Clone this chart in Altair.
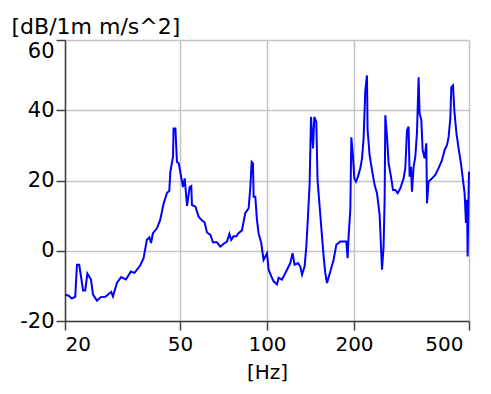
import altair as alt
import pandas as pd

freq = [20.0, 20.6, 21.1, 21.7, 22.0, 22.4, 23.1, 23.5, 23.9, 24.6,
        25.0, 25.8, 26.6, 27.6, 28.9, 29.3, 30.3, 31.3, 32.5, 33.8,
        34.8, 36.4, 37.4, 38.4, 39.2, 39.7, 40.3, 41.6, 42.7, 43.9,
        45.1, 45.9,
        46.3, 47.3, 47.5, 48.2, 48.8, 49.5, 50.1, 51.2, 51.9, 52.9,
        54.0, 54.7, 55.0, 56.5, 58.0, 59.6, 60.8, 62.0, 63.7, 65.0,
        67.1, 68.9, 70.8, 72.7, 74.1, 75.2, 76.6, 78.3, 79.7, 81.9,
        84.1, 86.4, 87.5, 88.5, 89.4, 89.9,
        91.1, 92.3, 93.5, 95.5, 97.3, 100.0, 101.3, 103.5, 105.4, 108.3,
        109.7, 112.7, 115.0, 117.3, 120.4, 122.6, 124.6, 128.0, 130.4, 132.2,
        134.9, 136.8, 138.2, 140.4, 142.0, 144.3, 145.8, 148.1, 149.6, 152.1,
        155.0, 157.0, 159.1, 161.3, 165.6, 170.0, 173.7, 179.3,
        188.1, 190.1, 191.6, 194.2, 195.8, 198.4, 200.5, 203.2, 206.4, 210.3,
        213.2, 215.9, 218.9, 221.8, 222.9, 226.5, 230.8, 235.7, 240.2, 245.3,
        250.0, 253.2, 255.3, 256.7, 260.2, 263.5, 268.5, 272.9, 278.0, 283.2,
        289.3,
        296.9, 301.0, 305.1, 309.0, 311.5, 315.0, 317.5, 321.6, 326.0, 330.4,
        334.6, 337.3, 342.0, 345.5, 351.1, 355.8, 357.8, 362.3, 372.4, 382.3,
        392.4, 403.2, 411.8, 419.7, 425.1, 430.8, 434.3, 440.2, 444.8, 451.9,
        460.3, 469.0, 476.6, 482.7, 488.1, 492.1, 494.5, 498.4, 500.0]

level = [-12.5, -12.8, -13.6, -13.1, -4.0, -4.0, -11.3, -11.3, -6.5, -8.2,
         -12.5, -14.2, -13.2, -13.1, -11.7, -13.0, -9.0, -7.5, -8.2, -5.9,
         -6.3, -4.2, -2.1, 3.1, 3.8, 2.2, 5.0, 6.4, 8.8, 13.5,
         16.5, 17.0,
         22.5, 26.8, 34.8, 34.8, 25.3, 24.9, 22.5, 18.1, 20.6, 12.8,
         18.1, 18.4, 13.0, 12.6, 9.7, 8.6, 8.1, 5.2, 4.5, 2.4,
         2.4, 1.2, 2.0, 2.6, 4.8, 3.1, 4.1, 4.1, 5.0, 5.8,
         10.7, 12.1, 17.8, 25.3, 24.9, 15.4,
         15.4, 8.8, 5.0, 2.2, -2.6, -0.7, -5.4, -7.3, -8.7, -9.6,
         -7.7, -8.2, -6.8, -5.4, -3.5, -0.7, -4.0, -3.5, -4.5, -6.8,
         -4.5, 1.2, 7.9, 18.7, 38.1, 29.1, 38.1, 36.7, 20.1, 12.6,
         4.1, -1.6, -6.3, -9.2, -5.9, -2.6, 1.7, 2.6,
         2.6, -2.1, 4.1, 11.6, 32.3, 26.8, 20.6, 19.7, 21.1, 23.5,
         26.3, 32.0, 45.7, 49.9, 34.3, 27.2, 23.0, 18.7, 16.4, 10.2,
         -5.4, 1.2, 14.5, 38.6, 32.4, 24.9, 21.1, 17.3, 17.3, 16.4,
         17.8,
         20.6, 23.5, 34.3, 35.3, 21.1, 23.9, 16.8, 23.9, 26.8, 33.8,
         49.4, 39.1, 37.2, 28.7, 26.3, 30.6, 13.5, 19.7, 20.6, 21.6,
         23.5, 25.8, 28.7, 30.1, 32.4, 37.6, 46.6, 47.1, 40.0, 33.8,
         29.1, 24.9, 20.1, 16.4, 7.9, 14.5, -1.6, 16.4, 22.5]

x_ticks = [20, 50, 100, 200, 500]
y_ticks = [-20, 0, 20, 40, 60]

df = pd.DataFrame({"freq": freq, "level": level})

FONT = "DejaVu Sans"
FS = 21

chart = alt.Chart(df).mark_line(color="#0000ff", strokeWidth=2).encode(
    x=alt.X("freq:Q",
            scale=alt.Scale(type="log", domain=[20, 500], nice=False),
            axis=alt.Axis(values=x_ticks, labelExpr="'' + datum.value",
                          labelFontSize=20,
                          labelOffset={"condition": {"test": "datum.value == 500", "value": -6},
                                       "value": 0},
                          title="[Hz]", titleX=202, titleY=57, titleFontSize=20,
                          titleAlign="center", titleBaseline="alphabetic",
                          tickSize=9, labelPadding=4)),
    y=alt.Y("level:Q",
            scale=alt.Scale(domain=[-20, 60], nice=False, zero=False),
            axis=alt.Axis(values=y_ticks, labelExpr="'' + datum.value",
                          title="[dB/1m m/s^2]", titleAngle=0,
                          titleX=-54, titleY=-7, titleAlign="left",
                          titleBaseline="alphabetic", titleFontSize=22,
                          tickSize=9, labelPadding=2,
                          labelBaseline={"condition": {"test": "datum.value == 60", "value": "top"},
                                         "value": "middle"})),
).properties(
    width=404, height=281,
    autosize=alt.AutoSizeParams(type="none"),
    padding={"left": 57, "top": 32, "right": 14, "bottom": 62},
).configure_view(stroke=None).configure_axis(
    labelFont=FONT, labelFontSize=FS, labelColor="#000000",
    titleFont=FONT, titleFontSize=FS, titleFontWeight="normal", titleColor="#000000",
    grid=True, gridColor="#c4c4c4", gridWidth=1.5,
    domainColor="#404040", domainWidth=1.5,
    tickColor="#404040", tickWidth=1.5,
)

chart.save("out.html", embed_options={"renderer": "svg", "actions": False})
